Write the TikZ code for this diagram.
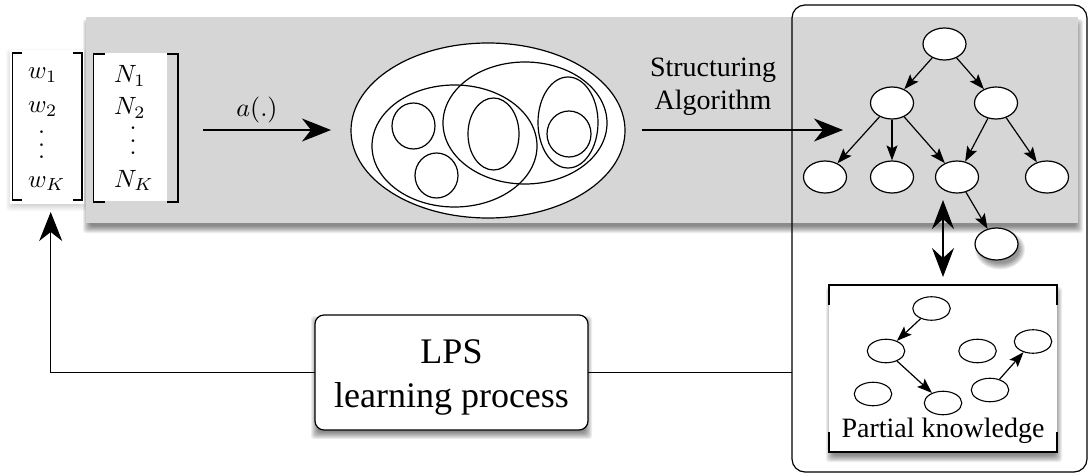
\documentclass[tikz,border=0pt]{standalone}
\usepackage{graphicx}
\usepackage{fontspec}
\setmainfont{Liberation Serif}
\usetikzlibrary{arrows.meta,shapes.geometric,calc}
\definecolor{bandgray}{RGB}{214,214,214}

% soft shadow: stacked translucent rectangles (x1,y1,x2,y2,dx,dy,opacity)
\newcommand\blurbox[7]{%
  \foreach \k in {0,...,7}{%
    \fill[black,opacity=#7,rounded corners=3pt]
      ({#1+#5-4+\k},{#2+#6-4+\k}) rectangle ({#3+#5+4-\k},{#4+#6+4-\k});
  }}
% enlarged math symbols
\newcommand\mathbig[1]{\scalebox{2.5}{$#1$}}
\newcommand\vdotsbig{\scalebox{2.5}{$\vcenter{\offinterlineskip\hbox{$.$}\kern3.9pt\hbox{$.$}\kern3.9pt\hbox{$.$}}$}}

\begin{document}
\begin{tikzpicture}[x=1pt,y=-1pt,
  line/.style={line width=1.2pt},
  bigtip/.style={-{Stealth[length=29pt,width=23pt,inset=9pt]}},
  smalltip/.style={-{Stealth[length=15pt,width=11pt,inset=3pt]}},
  tnode/.style={ellipse,draw,fill=white,line width=1.2pt,minimum width=43pt,minimum height=32pt,inner sep=0pt},
  pnode/.style={ellipse,draw,fill=white,line width=1.1pt,minimum width=37.5pt,minimum height=23.5pt,inner sep=0pt},
  vring/.style={ellipse,draw,line width=1.2pt,inner sep=0pt},
  mathtxt/.style={inner sep=0pt},
  serif28/.style={font=\fontsize{28}{33}\selectfont,inner sep=0pt},
]
\useasboundingbox (0,0) rectangle (1089,476);
\fill[white] (0,0) rectangle (1089,476);

% ---- shaded band with its shadow
\blurbox{86}{17}{1078}{223}{1}{6}{0.07}
\blurbox{10}{50}{84}{204}{0}{3}{0.025}
\fill[bandgray] (86,17) rectangle (1078,223);
\fill[white] (10,50) rectangle (84,204);
\fill[white] (94,53) rectangle (167,201);

% ---- weight vector and count vector
\draw[line,line width=1.3pt] (21.5,53) -- (12.5,53) -- (12.5,200) -- (21.5,200);
\draw[line,line width=1.3pt] (73,53) -- (82,53) -- (82,200) -- (73,200);
\draw[line,line width=1.3pt] (104.5,54) -- (93.5,54) -- (93.5,202) -- (104.5,202);
\draw[line,line width=1.3pt] (167,54) -- (178,54) -- (178,202) -- (167,202);

\node[mathtxt,anchor=base west] (w1) at (28,79) {\mathbig{w_1}};
\node[mathtxt,anchor=base west] (w2) at (28,113) {\mathbig{w_2}};
\node[mathtxt] (wdots) at (41.7,145) {\vdotsbig};
\node[mathtxt,anchor=base west] (wK) at (28,187) {\mathbig{w_K}};

\node[mathtxt,anchor=base west] (N1) at (114,83) {\mathbig{N_1}};
\node[mathtxt,anchor=base west] (N2) at (114,115) {\mathbig{N_2}};
\node[mathtxt] (Ndots) at (133,141) {\vdotsbig};
\node[mathtxt,anchor=base west] (NK) at (114,187) {\mathbig{N_K}};

% ---- mapping a(.)
\coordinate (a0) at (203,130);
\coordinate (a1) at (331,130);
\draw[line,bigtip] (a0) -- (a1);
\node[mathtxt] (alabel) at (257,110) {\scalebox{2.6}{$a(.)$}};

% ---- nested sets
\node[vring,fill=white,minimum width=274pt,minimum height=175pt] (venn) at (488,130.5) {};
\node[vring,minimum width=165pt,minimum height=122pt] (setA) at (454.5,146) {};
\node[vring,minimum width=164pt,minimum height=122pt] (setB) at (525,123) {};
\node[vring,minimum width=43pt,minimum height=46pt] (setC) at (413.5,126) {};
\node[vring,minimum width=43pt,minimum height=45pt] (setD) at (436.5,175.5) {};
\node[vring,minimum width=51pt,minimum height=72pt] (setE) at (493.5,134) {};
\node[vring,minimum width=60pt,minimum height=91pt] (setF) at (568,122.5) {};
\node[vring,minimum width=44pt,minimum height=46pt] (setG) at (569,134) {};

% ---- structuring step
\node[serif28,anchor=base] (slabel) at (713,77) {\begin{tabular}[t]{@{}c@{}}Structuring\\Algorithm\end{tabular}};
\coordinate (s0) at (642,130);
\coordinate (s1) at (843,130);
\draw[line,bigtip] (s0) -- (s1);

% ---- resulting hierarchy
\node[tnode] (root) at (944.5,44) {};
\node[tnode] (lc) at (892,103) {};
\node[tnode] (rc) at (996,103) {};
\node[tnode] (l1) at (825,177) {};
\node[tnode] (l2) at (892,177) {};
\node[tnode] (l3) at (957,177) {};
\node[tnode] (l4) at (1047,177) {};
\foreach \k in {0,...,6}{
  \fill[black,opacity=.07] (1000,249.5) ellipse [x radius={(25-\k)*1pt}, y radius={(20-\k)*1pt}];
}
\node[tnode] (ex) at (996.5,244) {};
\foreach \a/\b in {root/lc,root/rc,lc/l1,lc/l2,lc/l3,rc/l3,rc/l4,l3/ex}
  \draw[line,smalltip] (\a) -- (\b);

% ---- knowledge container
\node[draw,rounded corners=13pt,line width=1.2pt,minimum width=295pt,minimum height=467pt,inner sep=0pt,outer sep=0pt] (kbox) at (939.5,238.5) {};

\coordinate (d0) at (943,200);
\coordinate (d1) at (943,277);
\draw[line,{Stealth[length=29pt,width=22pt,inset=10pt]}-{Stealth[length=29pt,width=22pt,inset=10pt]}] (d0) -- (d1);

% ---- partial knowledge panel
\blurbox{829}{285}{1057}{452}{1}{6}{0.07}
\node[fill=white,minimum width=228pt,minimum height=167pt,inner sep=0pt,outer sep=0pt] (pk) at (943,368.5) {};
\draw[line] ($(pk.north west)+(0,20)$) -- (pk.north west) -- (pk.north east) -- ++(0,20);
\draw[line] ($(pk.south west)+(0,-20)$) -- (pk.south west) -- (pk.south east) -- ++(0,-20);
\node[pnode] (p1) at (931.5,308.5) {};
\node[pnode] (p2) at (886,351) {};
\node[pnode] (p3) at (977.5,351) {};
\node[pnode] (p4) at (1033,341.5) {};
\node[pnode] (p5) at (873,394) {};
\node[pnode] (p6) at (943,403) {};
\node[pnode] (p7) at (990,390) {};
\draw[line,smalltip] (p1) -- (p2);
\draw[line,smalltip] (p2) -- (p6);
\draw[line,smalltip] (p7) -- (p4);
\node[serif28,anchor=base] (pklabel) at (943,437) {Partial knowledge};

% ---- learning process and feedback loop
\blurbox{315}{315}{588}{430}{0}{5}{0.07}
\node[draw,fill=white,rounded corners=9pt,line width=1.2pt,minimum width=273pt,minimum height=115pt,inner sep=0pt,outer sep=0pt,font=\fontsize{36}{44}\selectfont] (lps) at (451.5,372.5)
  {\begin{tabular}{@{}c@{}}\rule{0pt}{38.2pt}LPS\\learning process\end{tabular}};
\coordinate (fbtip) at (50.7,212);
\draw[line,bigtip] (lps.west) -| (fbtip);
\draw[line] (lps.east) -- (lps.east -| kbox.west);
\end{tikzpicture}
\end{document}
